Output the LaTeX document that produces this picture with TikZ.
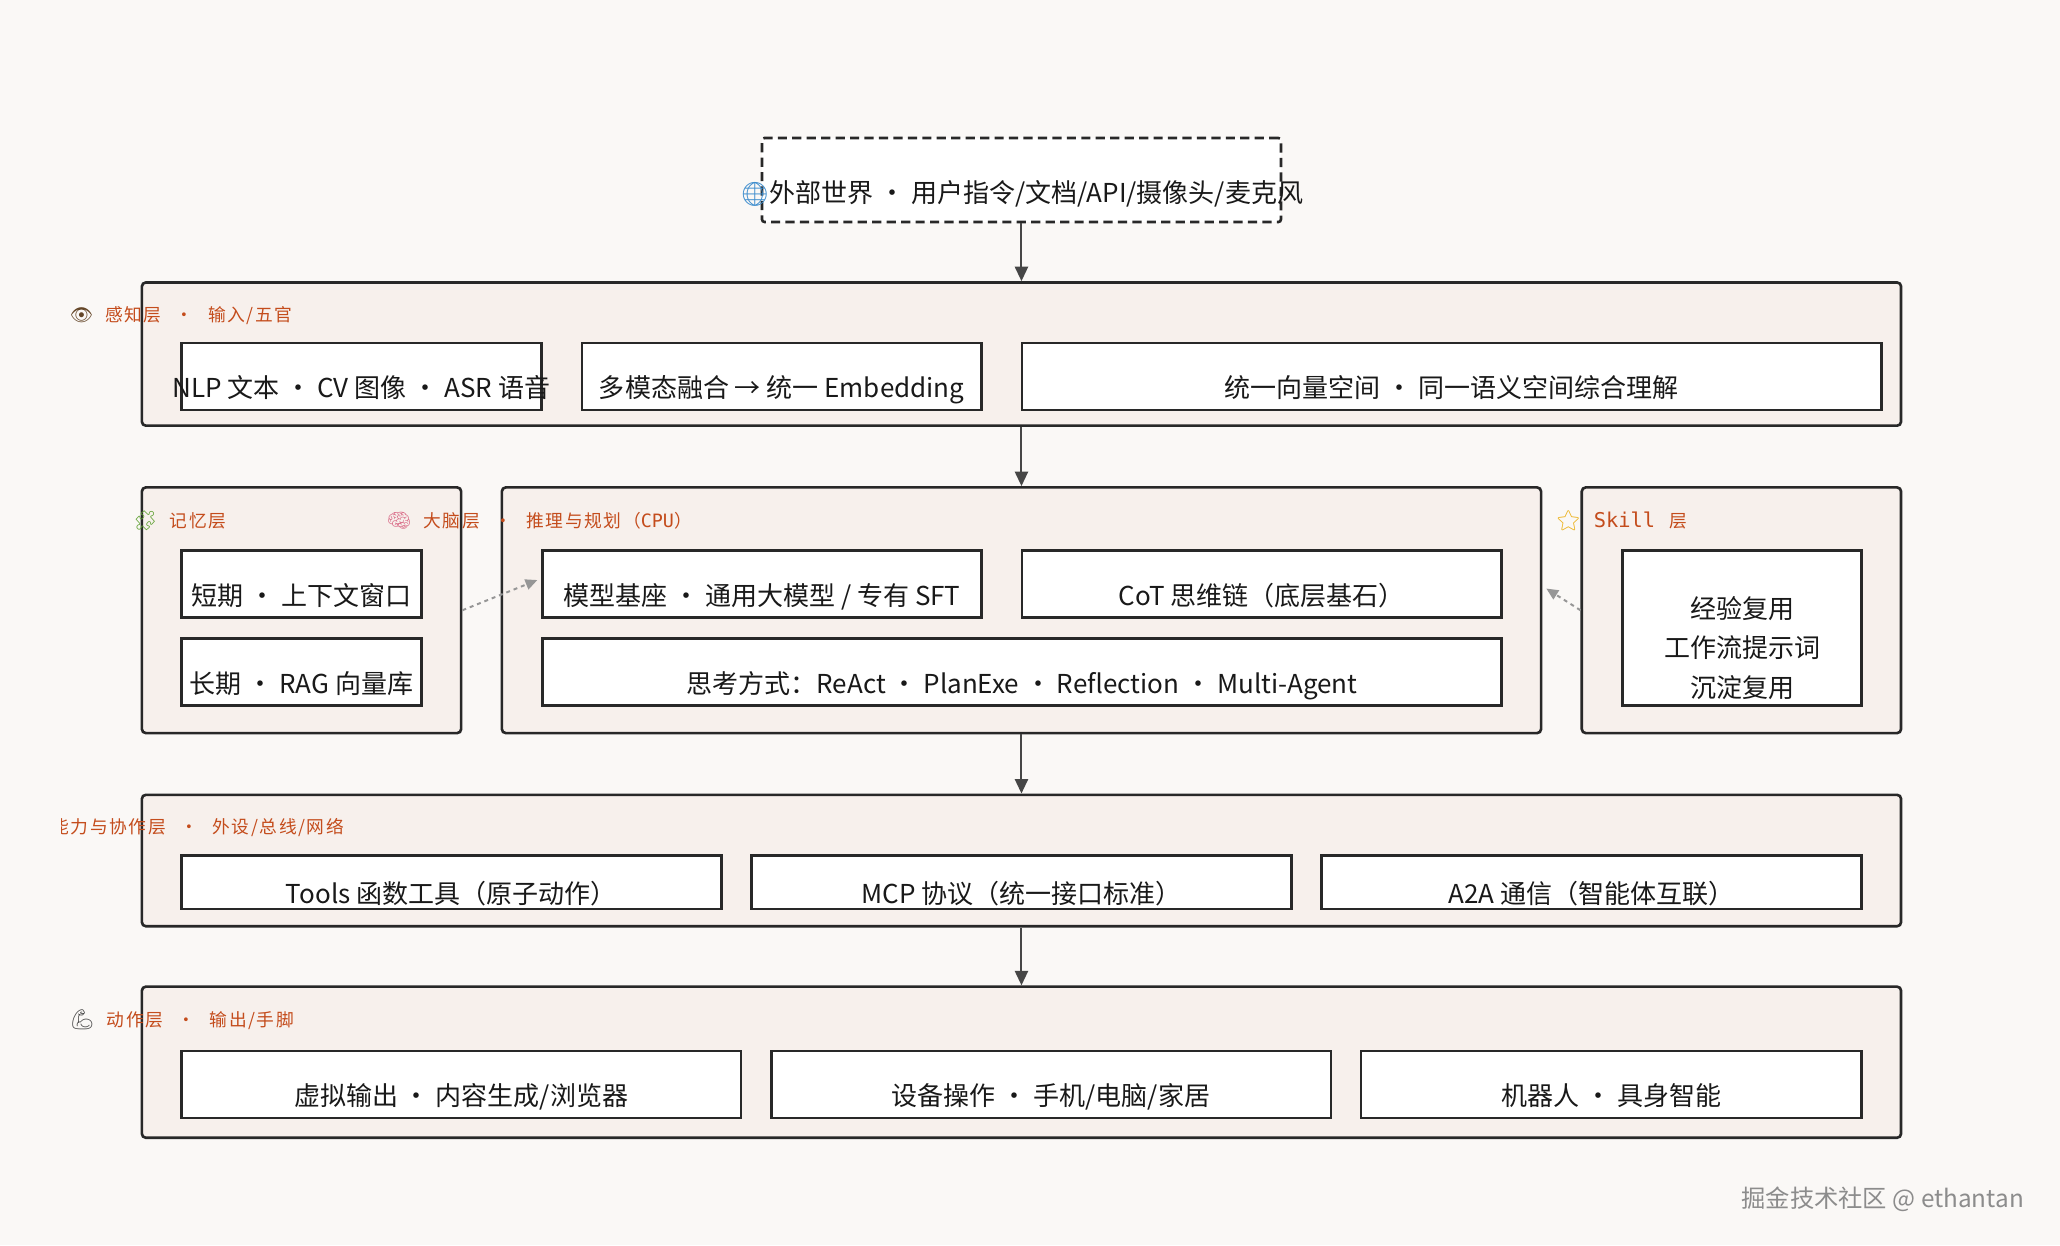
\documentclass[tikz,border=0pt]{standalone}
\usepackage{fontspec}
\setmainfont{Noto Sans CJK SC}
\newfontfamily\emoji{Noto Emoji}
\newfontfamily\tagfont[LetterSpace=9]{Noto Sans CJK SC}
\newfontfamily\tagmono{DejaVu Sans Mono}
\usetikzlibrary{arrows.meta}

\definecolor{bgcol}{RGB}{250,248,246}
\definecolor{layerfill}{RGB}{247,240,236}
\definecolor{linecol}{RGB}{40,40,40}
\definecolor{textcol}{RGB}{25,25,25}
\definecolor{tagcol}{RGB}{196,76,28}
\definecolor{arrowcol}{RGB}{70,70,70}
\definecolor{hintcol}{RGB}{150,150,150}
\definecolor{globecol}{RGB}{60,140,205}
\definecolor{eyecol}{RGB}{100,70,40}
\definecolor{puzzlecol}{RGB}{95,160,50}
\definecolor{braincol}{RGB}{220,120,145}
\definecolor{starcol}{RGB}{235,175,20}
\definecolor{armcol}{RGB}{70,70,70}

\tikzset{
  layer/.style={draw=linecol, line width=2pt, fill=layerfill, rounded corners=3pt},
  card/.style={draw=linecol, line width=2pt, fill=white},
  cardtext/.style={font=\fontsize{19.8}{24}\selectfont, text=textcol, text height=17pt, text depth=2.5pt, yshift=-9pt},
  tag/.style={font=\tagfont\fontsize{13.5}{15}\selectfont, text=tagcol, anchor=west, inner sep=0pt},
  flow/.style={draw=arrowcol, line width=1.5pt, -{Triangle[length=11pt,width=10pt]}},
  hint/.style={draw=hintcol, line width=1.5pt, dashed, -{Triangle[length=9pt,width=8pt]}},
}
\newcommand{\sep}{\hspace{11pt}·\hspace{11pt}}

\begin{document}
\begin{tikzpicture}[x=1pt,y=-1pt]
        % Canvas
        \fill[bgcol] (0,0) rectangle (1568,948);
        \useasboundingbox (0,0) rectangle (1568,948);

        % Outside world
        \node[draw=linecol, line width=2pt, dash pattern=on 7pt off 4pt, fill=white, rounded corners=2pt,
              minimum width=395pt, minimum height=64pt] (world) at (777.5,137) {};
        \node[cardtext, yshift=-1pt] (world-t) at (world) {{\emoji\color{globecol}\fontsize{18}{18}\selectfont 🌐}外部世界 · 用户指令/文档/API/摄像头/麦克风};

        % Perception layer
        \node[layer, minimum width=1339pt, minimum height=109pt] (perc) at (777.5,269.5) {};
        \node[tag] (perc-tag) at (53,240) {{\color{eyecol}\emoji\fontsize{14}{14}\selectfont 👁}\hspace{9pt}感知层\sep 输入/五官};
        \node[card, minimum width=274pt, minimum height=51pt] (nlp) at (275,286.5) {};
        \node[cardtext] (nlp-t) at (nlp) {NLP 文本 · CV 图像 · ASR 语音};
        \node[card, minimum width=304pt, minimum height=51pt] (fuse) at (595,286.5) {};
        \node[cardtext] (fuse-t) at (fuse) {多模态融合 → 统一 Embedding};
        \node[card, minimum width=654pt, minimum height=51pt] (vec) at (1105,286.5) {};
        \node[cardtext] (vec-t) at (vec) {统一向量空间 · 同一语义空间综合理解};

        % Memory layer
        \node[layer, minimum width=243pt, minimum height=187pt] (mem) at (229.5,464.5) {};
        \node[tag] (mem-tag) at (101,396) {{\color{puzzlecol}\emoji\fontsize{15}{15}\selectfont 🧩}\hspace{9pt}记忆层};
        \node[card, minimum width=183pt, minimum height=51pt] (short) at (229.5,444.5) {};
        \node[cardtext] (short-t) at (short) {短期 · 上下文窗口};
        \node[card, minimum width=183pt, minimum height=51pt] (long) at (229.5,511.5) {};
        \node[cardtext] (long-t) at (long) {长期 · RAG 向量库};

        % Brain layer
        \node[layer, minimum width=791pt, minimum height=187pt] (brain) at (777.5,464.5) {};
        \node[tag] (brain-tag) at (294,396) {{\color{braincol}\emoji\fontsize{15}{15}\selectfont 🧠}\hspace{9pt}大脑层\sep 推理与规划（{\tagmono\fontsize{14}{15}\selectfont CPU}）};
        \node[card, minimum width=334pt, minimum height=51pt] (base) at (580,444.5) {};
        \node[cardtext] (base-t) at (base) {模型基座 · 通用大模型 / 专有 SFT};
        \node[card, minimum width=365pt, minimum height=51pt] (cot) at (960.5,444.5) {};
        \node[cardtext] (cot-t) at (cot) {CoT 思维链（底层基石）};
        \node[card, minimum width=730pt, minimum height=51pt] (think) at (778,511.5) {};
        \node[cardtext] (think-t) at (think) {思考方式：ReAct · PlanExe · Reflection · Multi-Agent};

        % Skill layer
        \node[layer, minimum width=243pt, minimum height=187pt] (skill) at (1325.5,464.5) {};
        \node[tag] (skill-tag) at (1184,396) {{\color{starcol}\emoji\fontsize{15}{15}\selectfont ⭐}\hspace{10pt}{\tagmono\fontsize{15.5}{16}\selectfont Skill}\hspace{11pt}层};
        \node[card, minimum width=182pt, minimum height=118pt] (reuse) at (1326,478) {};
        \node[text=textcol, yshift=-15pt, align=center, font=\fontsize{19.8}{30}\selectfont] (reuse-t) at (reuse) {经验复用\\工作流提示词\\沉淀复用};

        % Capability layer
        \node[layer, minimum width=1339pt, minimum height=100pt] (cap) at (777.5,655) {};
        \begin{scope}
          \clip (47,612) rectangle (330,650);
          \node[tag] (cap-tag) at (39,630) {能力与协作层\sep 外设/总线/网络};
        \end{scope}
        \node[card, minimum width=411pt, minimum height=41pt] (tools) at (343.5,671.5) {};
        \node[cardtext] (tools-t) at (tools) {Tools 函数工具（原子动作）};
        \node[card, minimum width=411pt, minimum height=41pt] (mcp) at (777.5,671.5) {};
        \node[cardtext] (mcp-t) at (mcp) {MCP 协议（统一接口标准）};
        \node[card, minimum width=411pt, minimum height=41pt] (a2a) at (1211.5,671.5) {};
        \node[cardtext] (a2a-t) at (a2a) {A2A 通信（智能体互联）};

        % Action layer
        \node[layer, minimum width=1339pt, minimum height=115pt] (act) at (777.5,808.5) {};
        \node[tag] (act-tag) at (53,776) {{\color{armcol}\emoji\fontsize{15}{15}\selectfont 💪}\hspace{9pt}动作层\sep 输出/手脚};
        \node[card, minimum width=426pt, minimum height=51pt] (virt) at (351,825.5) {};
        \node[cardtext] (virt-t) at (virt) {虚拟输出 · 内容生成/浏览器};
        \node[card, minimum width=426pt, minimum height=51pt] (dev) at (800,825.5) {};
        \node[cardtext] (dev-t) at (dev) {设备操作 · 手机/电脑/家居};
        \node[card, minimum width=381pt, minimum height=51pt] (robot) at (1226.5,825.5) {};
        \node[cardtext] (robot-t) at (robot) {机器人 · 具身智能};

        % Main flow
        \draw[flow] (world) -- (perc);
        \draw[flow] (perc) -- (brain);
        \draw[flow] (brain) -- (cap);
        \draw[flow] (cap) -- (act);

        % Side inputs to the brain
        \coordinate (cot-in) at (1177,448);
        \draw[hint] (mem.east) -- ([xshift=-3pt,yshift=3pt]base.west);
        \draw[hint] (skill.west) -- (cot-in);

        % Watermark
        \node[anchor=east, text=gray!90, font=\fontsize{18.5}{21}\selectfont] (mark) at (1544,913) {掘金技术社区 @ ethantan};
    \end{tikzpicture}
\end{document}
